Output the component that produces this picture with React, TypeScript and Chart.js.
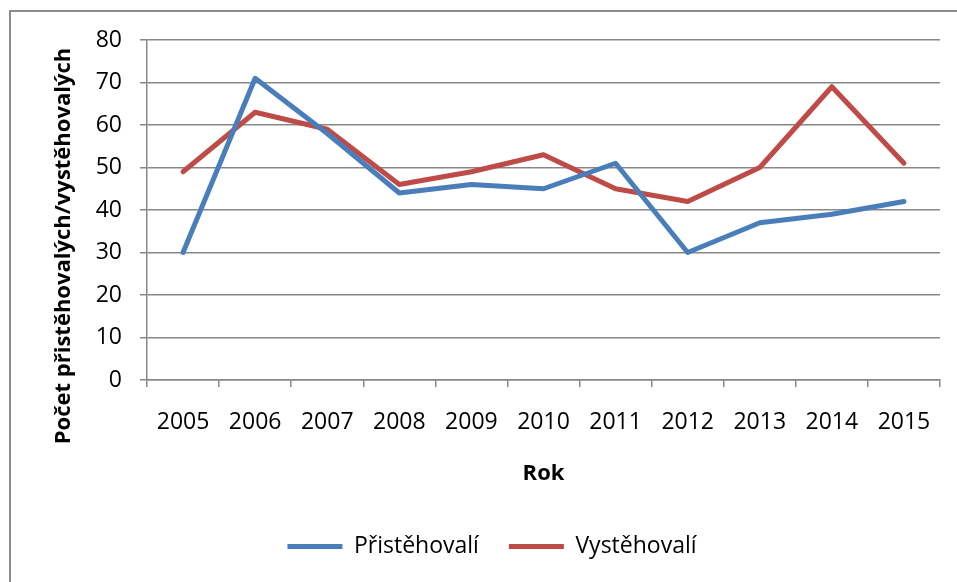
import React, { useEffect, useRef } from "react";
import { Chart, registerables } from "chart.js";

Chart.register(...registerables);

const years = ["2005", "2006", "2007", "2008", "2009", "2010", "2011", "2012", "2013", "2014", "2015"];
const immigrants = [30, 71, 58, 44, 46, 45, 51, 30, 37, 39, 42];
const emigrants = [49, 63, 59, 46, 49, 53, 45, 42, 50, 69, 51];
const seriesNames = ["Přistěhovalí", "Vystěhovalí"];
const yTitle = "Počet přistěhovalých/vystěhovalých";
const xTitle = "Rok";

const FONT = "'Open Sans', 'DejaVu Sans', sans-serif";
const GRAY = "#878787";

const framePlugin = {
  id: "frame",
  beforeDraw(chart: any) {
    const ctx = chart.ctx;
    ctx.save();
    ctx.fillStyle = "#ffffff";
    ctx.fillRect(0, 0, chart.width, chart.height);
    ctx.strokeStyle = "#8c8c8c";
    ctx.lineWidth = 2;
    ctx.strokeRect(10, 11, chart.width + 20, chart.height + 20);
    ctx.restore();
  },
  afterLayout(chart: any) {
    if (chart.legend) {
      chart.legend.left += 17;
      chart.legend.right += 17;
    }
  },
  afterDraw(chart: any) {
    const ctx = chart.ctx;
    ctx.save();
    ctx.translate(64, 246);
    ctx.rotate(-Math.PI / 2);
    ctx.font = "bold 22px " + FONT;
    ctx.fillStyle = "#000000";
    ctx.textAlign = "center";
    ctx.textBaseline = "middle";
    ctx.fillText(yTitle, 0, 0);
    ctx.restore();
  },
};

export default function App() {
  const ref = useRef<HTMLCanvasElement | null>(null);
  useEffect(() => {
    if (!ref.current) return;
    const chart = new Chart(ref.current, {
      type: "line",
      data: {
        labels: years,
        datasets: [
          {
            label: seriesNames[0],
            data: immigrants,
            borderColor: "#4a7ebb",
            backgroundColor: "#4a7ebb",
            borderWidth: 5,
            pointRadius: 0,
            tension: 0,
            borderJoinStyle: "round",
            borderCapStyle: "round",
          },
          {
            label: seriesNames[1],
            data: emigrants,
            borderColor: "#be4b48",
            backgroundColor: "#be4b48",
            borderWidth: 5,
            pointRadius: 0,
            tension: 0,
            borderJoinStyle: "round",
            borderCapStyle: "round",
          },
        ],
      },
      options: {
        responsive: false,
        animation: false,
        layout: { padding: { left: 10, right: 17, top: 40, bottom: 17 } },
        plugins: {
          tooltip: { enabled: false },
          legend: {
            position: "bottom",
            maxHeight: 60,
            labels: {
              boxWidth: 55,
              boxHeight: 5,
              padding: 30,
              color: "#000000",
              font: { family: FONT, size: 23 },
              generateLabels: (c: any) =>
                Chart.defaults.plugins.legend.labels
                  .generateLabels(c)
                  .map((l: any) => ({ ...l, lineWidth: 0, fillStyle: l.strokeStyle })),
            },
          },
        },
        scales: {
          x: {
            offset: true,
            grid: {
              display: true,
              offset: true,
              drawOnChartArea: false,
              drawTicks: true,
              tickLength: 7,
              color: GRAY,
              lineWidth: 1.5,
            },
            border: { display: true, color: GRAY, width: 1.5 },
            ticks: {
              color: "#000000",
              font: { family: FONT, size: 23 },
              padding: 22,
              maxRotation: 0,
            },
            title: {
              display: true,
              text: xTitle,
              color: "#000000",
              font: { family: FONT, size: 22, weight: "bold" },
              padding: { top: 0, bottom: 18 },
            },
            afterFit: (s: any) => {
              s.height = 125;
            },
          },
          y: {
            min: 0,
            max: 80,
            ticks: {
              stepSize: 10,
              color: "#000000",
              font: { family: FONT, size: 23 },
              padding: 18,
            },
            grid: {
              color: GRAY,
              lineWidth: 1.5,
              drawTicks: true,
              tickLength: 7,
            },
            border: { display: true, color: GRAY, width: 1.5 },
            afterFit: (s: any) => {
              s.width = 137;
            },
          },
        },
      },
      plugins: [framePlugin],
    } as any);
    return () => chart.destroy();
  }, []);
  return (
    <div style={{ position: "absolute", left: 0, top: 0, width: 957, height: 582 }}>
      <canvas ref={ref} width={957} height={582} style={{ width: 957, height: 582, display: "block" }} />
    </div>
  );
}
